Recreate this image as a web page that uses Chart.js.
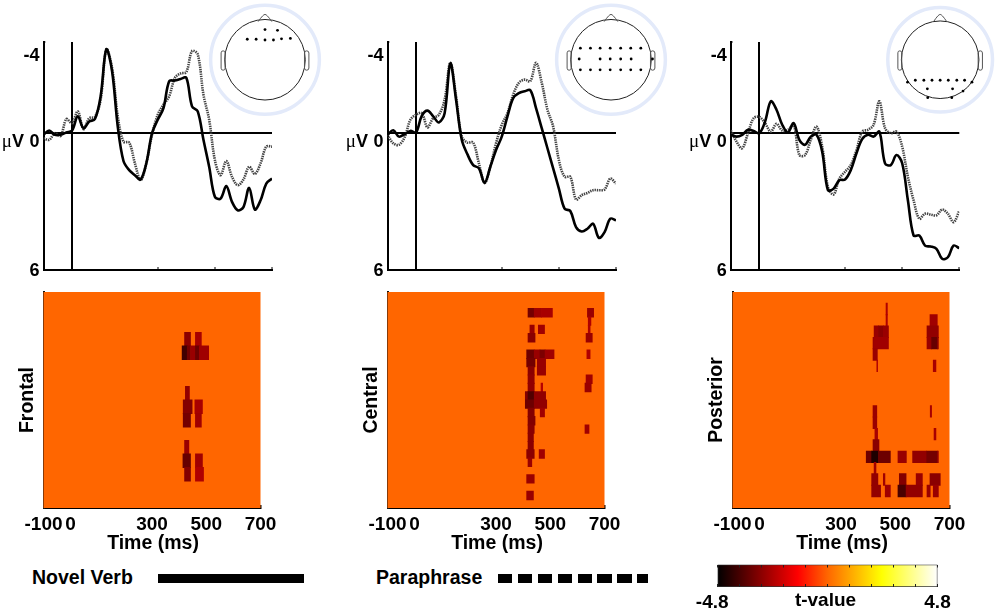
<!DOCTYPE html>
<html>
<head>
<meta charset="utf-8">
<title>ERP panels</title>
<script src="https://cdn.jsdelivr.net/npm/chart.js@4"></script>
<style>
  html, body { margin: 0; padding: 0; background: #fff; }
  #page { position: relative; width: 1000px; height: 610px; overflow: hidden; }
  #page canvas { position: absolute; left: 0; top: 0; }
  .key { position: absolute; font: bold 19.5px "Liberation Sans", Arial, sans-serif; color: #000; white-space: nowrap; }
  .bar { position: absolute; height: 9px; top: 574px; }
</style>
</head>
<body>
<div id="page">
  <div class="key" style="left:32px;top:566px">Novel Verb</div>
  <div class="bar" style="left:158px;width:146px;background:#000"></div>
  <div class="key" style="left:376px;top:566px">Paraphrase</div>
  <div class="bar" style="left:498px;width:150px;background:repeating-linear-gradient(90deg,#000 0 14.5px,#fff 14.5px 19.9px)"></div>
</div>
<script>
// sample times of the averaged waves (ms)
const times = [-100,-80,-60,-40,-20,0,20,40,60,80,100,120,140,160,180,200,220,240,260,280,300,320,340,360,380,400,420,440,460,480,500,520,540,560,580,600,620,640,660,680,700];

// waves in microvolts, solid = novel verb, dotted = paraphrase
const frontalNovel = [.07,-.12,.07,.07,-.03,-.12,-.74,-.22,-.51,-.62,-1.62,-3.68,-2.72,-.29,1.22,1.62,1.84,2.03,1.32,0,-.59,-1.10,-2.28,-2.31,-2.38,-2.43,-1.18,-.96,.29,1.47,2.79,2.87,2.32,3.01,3.38,3.24,2.40,3.35,2.94,2.21,1.99];
const frontalPara = [.22,.29,0,.12,-.62,-.44,-.96,-.18,-.66,-.71,-1.47,-3.68,-2.87,-.74,.37,.41,1.32,2.06,1.32,.07,-.81,-1.25,-1.62,-2.43,-2.62,-2.68,-3.60,-3.46,-1.69,-.59,1.18,1.84,1.22,1.91,2.28,2.03,1.47,1.79,1.32,.59,.59];
const centralNovel = [.07,-.13,.15,.04,-.10,-.04,-.76,-.99,-.74,-.47,-.88,-3.06,-1.47,.29,.93,1.40,1.54,2.18,1.47,.74,.15,-.74,-1.54,-1.76,-1.84,-1.88,-1.10,-.22,.66,1.54,2.43,3.31,3.41,4.12,4.31,4.19,3.97,4.59,4.34,3.75,3.82];
const centralPara = [.07,.44,.51,.18,-.59,-.81,-.88,-.26,-.66,-.81,-1.47,-3.09,-1.62,.15,.41,.41,1.32,2.18,1.47,.44,-.37,-.88,-1.69,-2.21,-2.35,-2.28,-3.09,-2.21,-1.03,-.29,1.18,1.91,1.91,2.91,2.72,2.62,2.50,2.50,2.47,1.99,2.21];
const posteriorNovel = [.07,.15,.07,-.15,-.10,0,-.51,-1.40,-1.03,-.37,-.03,-.44,.29,.51,.15,.07,.81,2.50,2.43,2.06,2.03,1.62,.88,.26,.07,.15,-.07,1.32,1.40,.96,1.32,2.94,4.49,4.49,4.93,4.97,5.07,5.51,5.44,4.93,5.04];
const posteriorPara = [-.12,.37,.66,0,-.66,-.71,-.44,-.07,-.41,-.12,-.15,-.37,.96,.96,.29,-.29,.59,2.35,2.69,1.99,1.69,1.40,.74,-.07,-.15,-.37,-1.40,-.22,0,-.07,.59,1.91,2.94,3.75,3.53,3.57,3.60,3.35,3.53,3.90,3.41];

const voltTicks = [-4, 0, 6];
const waveTimeTicks = [-100, 0, 300, 500, 700];
const heatTimeTicks = [-100, 0, 300, 500, 700];
const scaleTicks = [-4.8,-3.84,-2.88,-1.92,-.96,0,.96,1.92,2.88,3.84,4.8];

// significant cells: [channel, start ms, end ms, t value]
const frontalCells = [
  [4,420,442,-2.9],[4,460,482,-2.5],
  [5,411,430,-3.9],[5,430,442,-3.2],[5,442,460,-2.7],[5,460,475,-3.3],[5,475,509,-2.6],
  [8,423,438,-2.8],
  [9,415,448,-3],[9,458,486,-2.5],
  [10,415,442,-3.2],[10,460,482,-2.6],
  [12,420,436,-2.7],
  [13,414,442,-3.4],[13,460,486,-2.6],
  [14,420,442,-3],[14,460,490,-2.4]
];
const centralCells = [
  [3,418,441,-3.2],[3,441,468,-2.6],[3,468,508,-2.5],[3,637,660,-2.7],
  [4,640,650,-2.4],
  [5,425,441,-2.7],[5,456,479,-2.6],[5,640,647,-2.4],
  [6,418,444,-2.9],[6,632,655,-2.7],
  [8,413,441,-3.3],[8,441,462,-2.7],[8,462,481,-3.1],[8,481,514,-2.6],[8,635,647,-2.4],
  [9,413,444,-3.2],[9,452,483,-2.7],
  [10,418,441,-2.9],[10,452,483,-2.7],
  [11,418,441,-2.8],[11,632,655,-2.6],
  [12,418,441,-2.8],[12,466,472,-2.3],[12,628,651,-2.7],
  [13,408,418,-3],[13,418,441,-3.7],[13,441,483,-2.8],
  [14,408,441,-3.3],[14,441,487,-2.8],
  [15,418,441,-3],[15,463,479,-2.6],
  [16,418,444,-3],
  [17,418,441,-2.9],[17,628,643,-2.6],
  [18,418,438,-2.9],
  [19,418,438,-2.9],
  [20,413,441,-2.9],[20,459,479,-2.6],
  [21,418,432,-2.7],
  [23,413,441,-2.7],
  [25,413,438,-2.7]
];
const posteriorCells = [
  [2,466,471,-2.4],
  [3,466,471,-2.4],[3,628,655,-2.6],
  [4,422,438,-2.7],[4,438,456,-2.9],[4,456,475,-2.7],[4,617,659,-2.8],
  [5,418,422,-2.7],[5,422,475,-2.6],[5,617,634,-2.7],[5,634,655,-3.4],[5,655,659,-2.9],
  [6,418,434,-2.7],
  [7,432,435,-2.4],[7,640,650,-2.5],
  [11,418,432,-2.7],[11,629,634,-2.5],
  [12,418,432,-2.7],
  [13,425,435,-2.5],[13,643,650,-2.5],
  [14,418,440,-2.9],
  [15,393,413,-3.3],[15,413,438,-4.4],[15,438,482,-3.3],[15,510,541,-2.7],[15,564,616,-2.8],[15,616,655,-3.2],[15,655,659,-2.8],
  [16,422,429,-2.6],
  [17,413,436,-2.8],[17,456,462,-2.6],[17,515,540,-3],[17,577,600,-2.7],[17,628,666,-2.9],
  [18,413,446,-2.8],[18,463,482,-2.6],[18,510,540,-3.8],[18,540,600,-2.8],[18,617,629,-2.7],[18,640,659,-2.7]
];

// electrode positions on the head, in head radii
const frontalSites = [[0,.78],[.31,.76],[-.44,.53],[-.22,.53],[0,.51],[.21,.51],[.41,.54],[.63,.55]];
const centralSites = [[-.76,.3],[-.51,.3],[-.27,.3],[-.02,.3],[.24,.3],[.49,.3],[.74,.3],[-.79,.02],[-.27,.02],[-.02,.02],[.24,.02],[.5,.02],[1.03,.02],[-.76,-.26],[-.51,-.26],[-.27,-.26],[-.02,-.26],[.24,-.26],[.49,-.26],[.74,-.26]];
const posteriorSites = [[-.64,-.53],[-.42,-.53],[-.21,-.53],[0,-.53],[.21,-.53],[.43,-.53],[.63,-.53],[-.84,-.58],[.82,-.58],[-.33,-.75],[.32,-.75],[.59,-.81],[-.32,-.98],[.3,-.98]];

const colorStops = [[0,[0,0,0]],[.365,[255,0,0]],[.5,[255,102,0]],[.746,[255,255,0]],[1,[255,255,255]]];

const FONT = '"Liberation Sans", Arial, sans-serif';
const BOLD = 'bold 18px ' + FONT;
const TITLE = 'bold 19.5px ' + FONT;
const page = document.getElementById('page');

function hot(t) {
  const f = (t + 4.8) / 9.6;
  for (let i = 1; i < colorStops.length; i++) {
    const [f0, c0] = colorStops[i - 1], [f1, c1] = colorStops[i];
    if (f <= f1) {
      const k = (f - f0) / (f1 - f0);
      return 'rgb(' + c0.map((c, j) => Math.round(c + (c1[j] - c) * k)).join(',') + ')';
    }
  }
  return '#fff';
}

function newCanvas() {
  const c = document.createElement('canvas');
  c.width = 1000; c.height = 610;
  page.appendChild(c);
  return c;
}

// full-page canvas with the plot area set by the padding
function box(left, top, right, bottom, below) {
  return { padding: { left: left, top: top, right: 1000 - right, bottom: 610 - bottom - (below || 0) } };
}

// axes take no room of their own, only the labelled ones keep a strip below
function fitTo(size) {
  return s => {
    if (s.isHorizontal()) s.height = size; else s.width = size;
    s.paddingLeft = s.paddingRight = s.paddingTop = s.paddingBottom = 0;
  };
}

function fixedTicks(values) {
  return s => { s.ticks = values.map(v => ({ value: v })); };
}

function write(ctx, str, x, y, font, align) {
  ctx.save();
  ctx.font = font; ctx.fillStyle = '#000';
  ctx.textAlign = align || 'center'; ctx.textBaseline = 'middle';
  ctx.fillText(str, x, y);
  ctx.restore();
}

const baseOpts = { responsive: false, animation: false, devicePixelRatio: 1, events: [] };
const quiet = { legend: { display: false }, tooltip: { enabled: false } };

// labels of the wave plots sit below their ticks
const voltShift = { '-4': 14, '0': 9, '6': 1.5 };
const voltLabels = {
  id: 'voltLabels',
  afterDraw(chart) {
    const ctx = chart.ctx, y = chart.scales.y, right = y.left - 4;
    y.ticks.forEach(t => {
      const py = y.getPixelForValue(t.value) + voltShift[t.value];
      write(ctx, String(t.value), right, py, BOLD, 'right');
      if (t.value === 0) {
        write(ctx, 'V', right - 15.5, py, BOLD, 'right');
        write(ctx, 'μ', right - 27.5, py, '19px "Liberation Serif", serif', 'right');
      }
    });
  }
};

function wavePlot(left, novel, para) {
  new Chart(newCanvas(), {
    type: 'line',
    data: {
      datasets: [
        { data: times.map((t, i) => ({ x: t, y: novel[i] })), borderColor: '#000', borderWidth: 2.6, pointRadius: 0, tension: .35 },
        { data: times.map((t, i) => ({ x: t, y: para[i] })), borderColor: '#444', borderWidth: 2.6, borderDash: [1.4, .9], pointRadius: 0, tension: .35 }
      ]
    },
    plugins: [voltLabels],
    options: Object.assign({}, baseOpts, {
      layout: box(left, 42, left + 228.5, 270),
      plugins: quiet,
      scales: {
        x: {
          type: 'linear', min: -100, max: 700, afterFit: fitTo(0), afterBuildTicks: fixedTicks(waveTimeTicks),
          ticks: { display: false, autoSkip: false },
          border: { color: '#000', width: 2 },
          grid: { color: c => c.tick && c.tick.value === 0 ? '#000' : 'transparent', lineWidth: 2, tickLength: -3, tickColor: '#000', tickWidth: 1 }
        },
        y: {
          min: -4, max: 6, reverse: true, afterFit: fitTo(0), afterBuildTicks: fixedTicks(voltTicks),
          ticks: { display: false, autoSkip: false },
          border: { color: '#000', width: 2 },
          grid: { color: c => c.tick && c.tick.value === 0 ? '#000' : 'transparent', lineWidth: 2, tickLength: -2, tickColor: '#000', tickWidth: 1 }
        }
      }
    })
  });
}

const heatBack = {
  id: 'heatBack',
  beforeDatasetsDraw(chart) {
    const a = chart.chartArea;
    chart.ctx.fillStyle = hot(0);
    chart.ctx.fillRect(a.left, a.top, a.width, a.height);
  }
};
const heatTitles = {
  id: 'heatTitles',
  afterDraw(chart) {
    const ctx = chart.ctx, a = chart.chartArea;
    write(ctx, 'Time (ms)', (a.left + a.right) / 2 + 1, 544, TITLE);
    ctx.save();
    ctx.translate(a.left - 16, 400);
    ctx.rotate(-Math.PI / 2);
    write(ctx, chart.options.plugins.heatTitles.name, 0, 0, TITLE);
    ctx.restore();
  }
};

function heatPlot(left, name, rows, cells) {
  const rowPx = 216 / rows;
  new Chart(newCanvas(), {
    type: 'bar',
    data: {
      datasets: [{
        data: cells.map(c => ({ y: c[0], x: [c[1], c[2]] })),
        backgroundColor: cells.map(c => hot(c[3])),
        barThickness: rowPx + .4
      }]
    },
    plugins: [heatBack, heatTitles],
    options: Object.assign({}, baseOpts, {
      indexAxis: 'y',
      layout: box(left, 292, left + 217, 508, 40),
      plugins: Object.assign({ heatTitles: { name: name } }, quiet),
      scales: {
        x: {
          type: 'linear', min: -100, max: 700, afterFit: fitTo(40), afterBuildTicks: fixedTicks(heatTimeTicks),
          ticks: {
            autoSkip: false, maxRotation: 0, color: '#000', font: { family: FONT, size: 19, weight: 'bold' }, padding: 8
          },
          border: { color: '#000', width: 2 },
          grid: { color: 'transparent', tickLength: -3, tickColor: c => c.tick && c.tick.value === 700 ? '#000' : 'transparent', tickWidth: 2 }
        },
        y: {
          type: 'linear', min: .5, max: rows + .5, reverse: true, offset: false, afterFit: fitTo(0),
          ticks: { display: false },
          border: { color: '#111', width: 2 },
          grid: { display: false, offset: false }
        }
      }
    })
  });
}

// scalp outline, drawn on the same unit scales as the electrodes
const headOutline = {
  id: 'headOutline',
  beforeDatasetsDraw(chart) {
    const ctx = chart.ctx, sx = chart.scales.x, sy = chart.scales.y;
    const px = v => sx.getPixelForValue(v), py = v => sy.getPixelForValue(v);
    const unit = px(1) - px(0);
    ctx.save();
    ctx.strokeStyle = '#e3eafa'; ctx.lineWidth = 3.5;
    ctx.beginPath(); ctx.arc(px(0), py(0), 1.35 * unit, 0, Math.PI * 2); ctx.stroke();
    ctx.strokeStyle = '#222'; ctx.lineWidth = 1;
    ctx.beginPath(); ctx.arc(px(0), py(0), unit, 0, Math.PI * 2); ctx.stroke();
    ctx.strokeStyle = '#555';
    ctx.beginPath();
    ctx.moveTo(px(-.17), py(.985)); ctx.quadraticCurveTo(px(-.04), py(1.18), px(0), py(1.17));
    ctx.quadraticCurveTo(px(.04), py(1.18), px(.17), py(.985)); ctx.stroke();
    [[-1.09, -.99], [.98, 1.09]].forEach(e => {
      ctx.beginPath();
      ctx.roundRect(px(e[0]), py(.23), px(e[1]) - px(e[0]), py(-.27) - py(.23), 3);
      ctx.stroke();
    });
    ctx.restore();
  }
};

function headMap(cx, sites) {
  new Chart(newCanvas(), {
    type: 'scatter',
    data: { datasets: [{ data: sites.map(s => ({ x: s[0], y: s[1] })), backgroundColor: '#000', borderWidth: 0, pointRadius: 1.4 }] },
    plugins: [headOutline],
    options: Object.assign({}, baseOpts, {
      layout: box(cx - 58, 57.5 - 58, cx + 58, 57.5 + 58),
      plugins: quiet,
      scales: {
        x: { display: false, min: -1.44, max: 1.44 },
        y: { display: false, min: -1.44, max: 1.44 }
      }
    })
  });
}

function colorBar() {
  new Chart(newCanvas(), {
    type: 'bar',
    data: {
      labels: ['t'],
      datasets: [{
        data: [[-4.8, 4.8]],
        barThickness: 22.4,
        borderColor: '#333', borderWidth: 1, borderSkipped: false,
        backgroundColor: c => {
          const a = c.chart.chartArea;
          if (!a) return '#ff6600';
          const g = c.chart.ctx.createLinearGradient(a.left, 0, a.right, 0);
          colorStops.forEach(s => g.addColorStop(s[0], 'rgb(' + s[1].join(',') + ')'));
          return g;
        }
      }]
    },
    plugins: [{
      id: 'barTitle',
      afterDraw(chart) {
        const a = chart.chartArea;
        write(chart.ctx, 't-value', (a.left + a.right) / 2 - 2, 601, 'bold 19px ' + FONT);
      }
    }],
    options: Object.assign({}, baseOpts, {
      indexAxis: 'y',
      layout: box(717.5, 564.5, 937.5, 587, 23),
      plugins: quiet,
      scales: {
        x: {
          type: 'linear', min: -4.8, max: 4.8, afterFit: fitTo(23), afterBuildTicks: fixedTicks(scaleTicks),
          ticks: {
            autoSkip: false, maxRotation: 0, color: '#000', font: { family: FONT, size: 19, weight: 'bold' }, padding: 7,
            callback: v => v === -4.8 ? '-4.8  ' : v === 4.8 ? '4.8' : ''
          },
          border: { display: false },
          grid: { color: 'transparent', z: 1, tickLength: -3, tickColor: '#222', tickWidth: 1 }
        },
        x2: {
          type: 'linear', position: 'top', min: -4.8, max: 4.8, afterFit: fitTo(0), afterBuildTicks: fixedTicks(scaleTicks),
          ticks: { autoSkip: false, display: false },
          border: { display: false },
          grid: { color: 'transparent', z: 1, tickLength: -3, tickColor: '#222', tickWidth: 1 }
        },
        y: { type: 'category', afterFit: fitTo(0), ticks: { display: false }, border: { display: false }, grid: { display: false } }
      }
    })
  });
}

wavePlot(43.5, frontalNovel, frontalPara);
wavePlot(387.5, centralNovel, centralPara);
wavePlot(730.8, posteriorNovel, posteriorPara);

heatPlot(43.5, 'Frontal', 16, frontalCells);
heatPlot(387.5, 'Central', 26, centralCells);
heatPlot(732.5, 'Posterior', 19, posteriorCells);

headMap(265, frontalSites);
headMap(611, centralSites);
headMap(942.3, posteriorSites);

colorBar();
</script>
</body>
</html>
